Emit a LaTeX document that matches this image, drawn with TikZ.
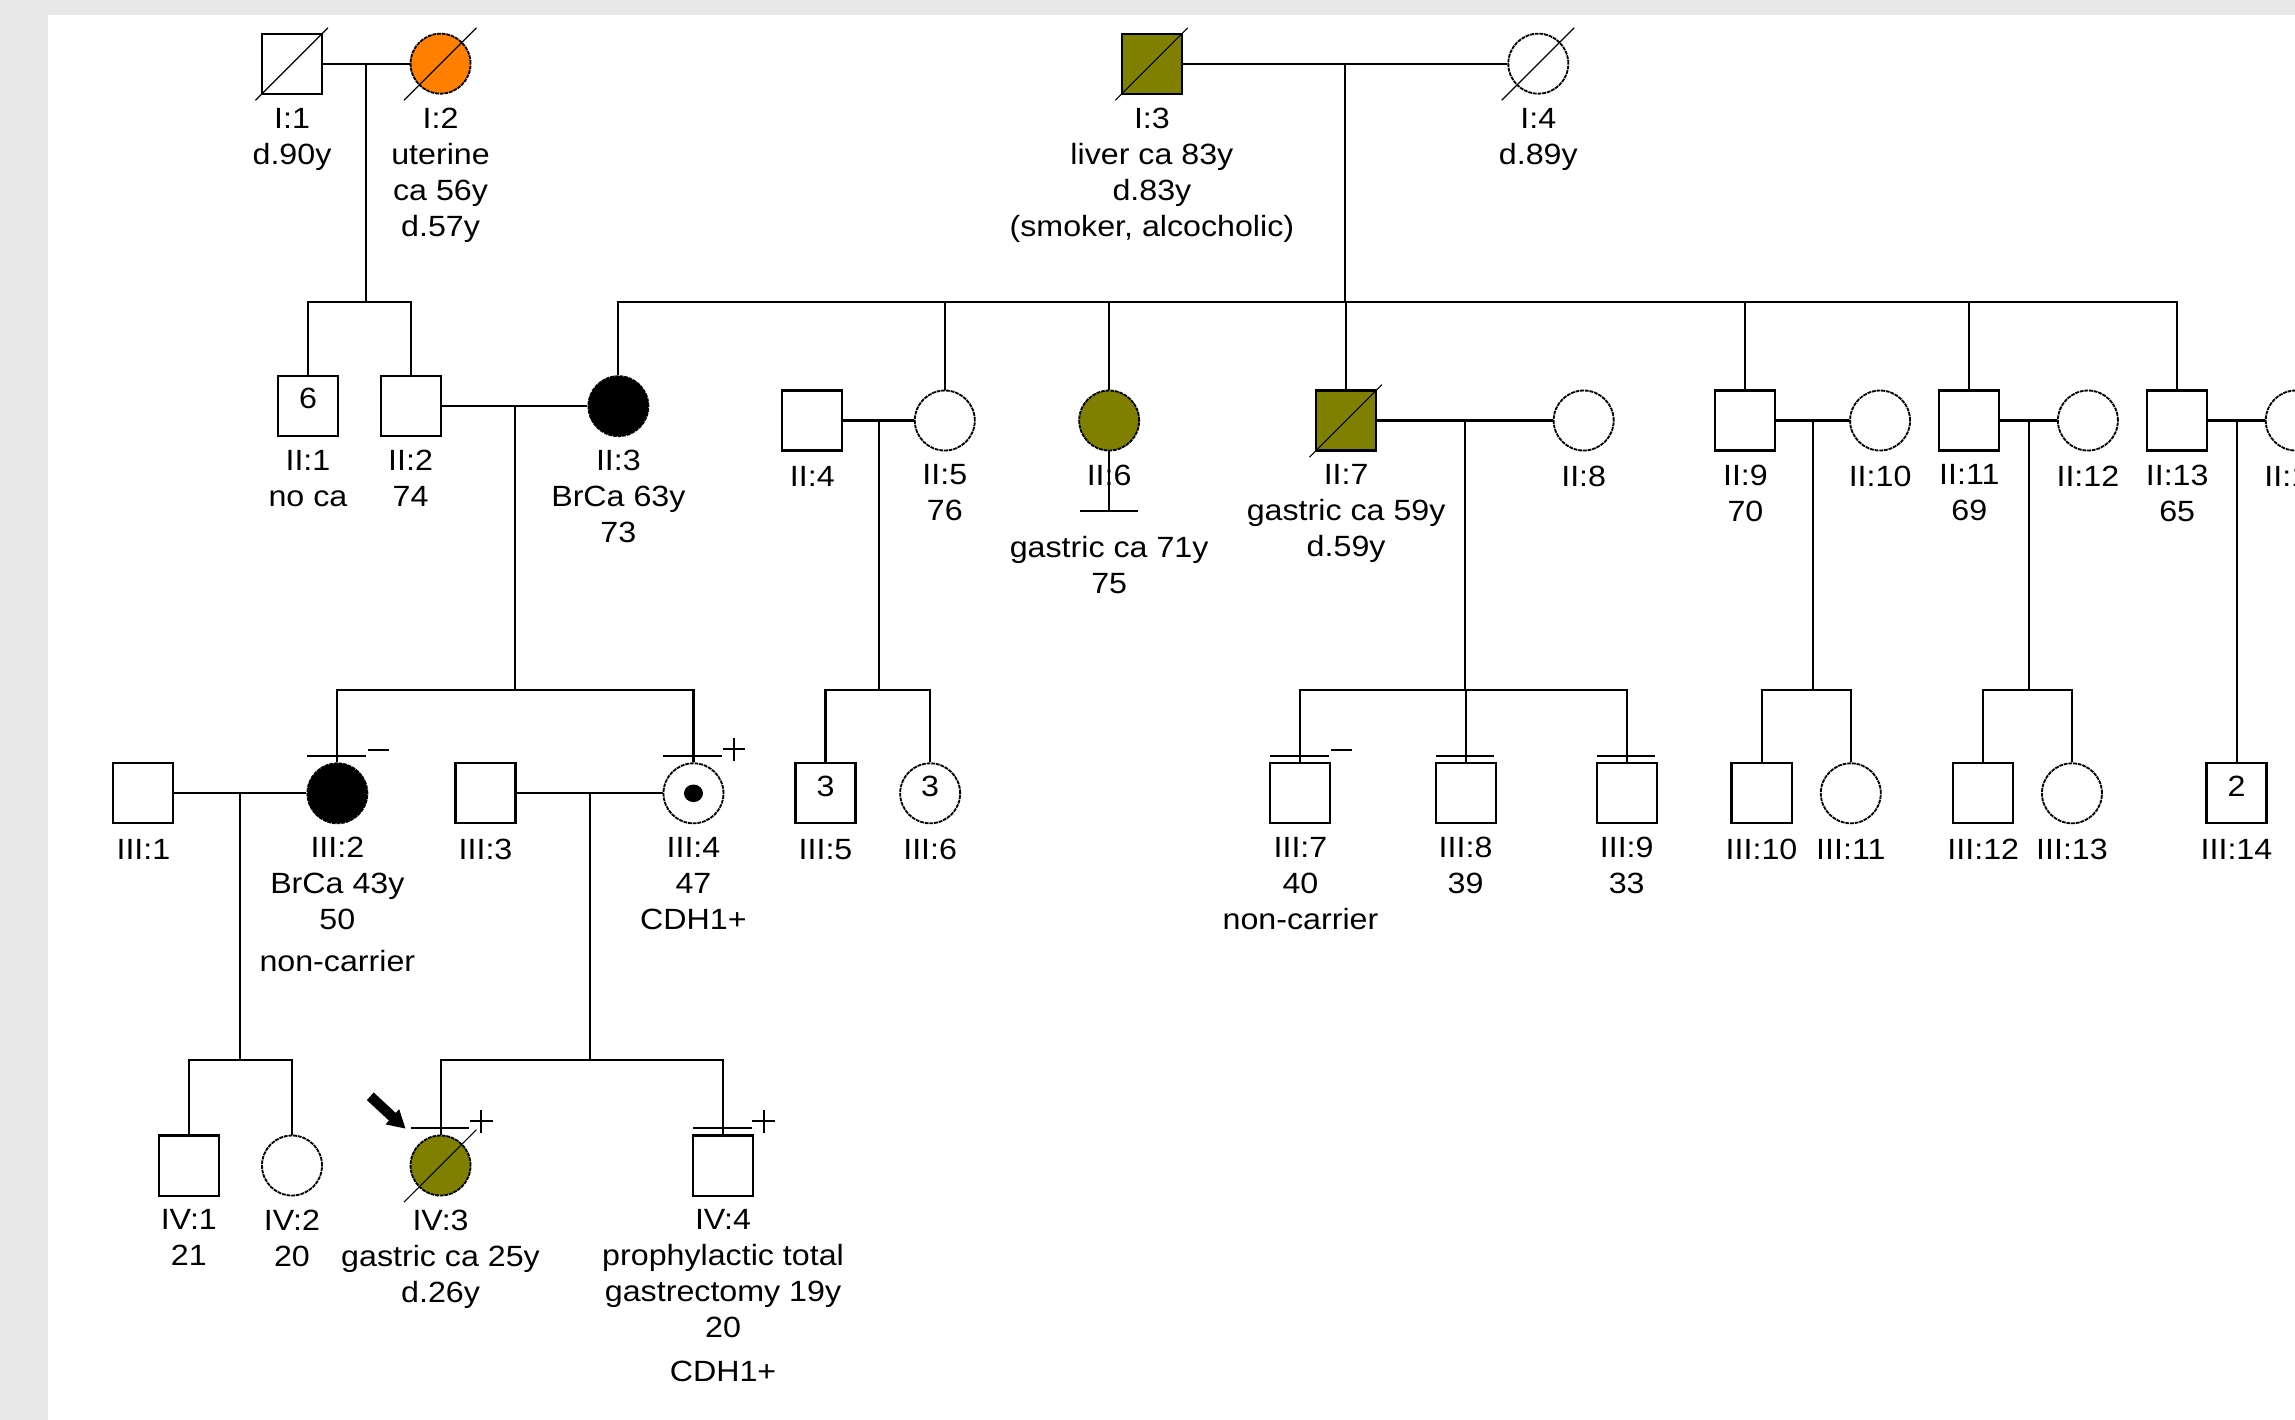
\documentclass[tikz,border=0pt]{standalone}
\usepackage{fontspec}
\setmainfont{Liberation Sans}[FakeStretch=1.1]
\usetikzlibrary{calc}
\definecolor{olivefill}{RGB}{128,128,0}
\definecolor{orangefill}{RGB}{255,128,0}
\definecolor{bggray}{RGB}{232,232,232}
\newcommand\pfont{\fontsize{20}{24.6}\selectfont}
\newcommand\deadmark[1]{\draw[slashline] ($(#1)+(-25,25)$) -- ($(#1)+(24.5,-24.5)$);}
\newcommand\testbar[1]{\draw[ln] ($(#1.north)+(-20.5,-4.5)$) -- ($(#1.north)+(19.5,-4.5)$);}
\newcommand\plusmark[1]{\draw[signline] ($(#1.north)+(20,-9)$) -- ++(15.5,0) ($(#1.north)+(27.75,-17)$) -- ++(0,16);}
\newcommand\minusmark[1]{\draw[signline] ($(#1.north)+(21,-8.5)$) -- ++(14,0);}
\begin{document}
\begin{tikzpicture}[x=1pt,y=-1pt,
  ln/.style={line width=1.4pt},
  slashline/.style={line width=0.8pt},
  signline/.style={line width=1.3pt},
  sq/.style={draw, line width=1.4pt, rectangle, minimum size=41pt, inner sep=0pt, fill=white},
  ci/.style={draw, line width=1.25pt, dash pattern=on 2.6pt off 0.6pt, circle, minimum size=41pt, inner sep=0pt, fill=white},
  lbl/.style={anchor=north, inner sep=0pt, align=center, font=\pfont, execute at begin node={\rule{0pt}{15pt}}},
  num/.style={inner sep=0pt, font=\pfont}]
\useasboundingbox (0,0) rectangle (1568,970);
\clip (0,0) rectangle (1568,970);
\fill[bggray] (0,0) rectangle (1568,970);
\fill[white] (33,10.3) rectangle (1568,970);

% sibship levels
\coordinate (sy1) at (0,206.2);
\coordinate (sy2) at (0,471.4);
\coordinate (sy3) at (0,724);

% ---------- Generation I ----------
\node[sq] (I1) at (199.5,43.5) {};
\node[ci, fill=orangefill] (I2) at (301,43.5) {};
\node[sq, fill=olivefill] (I3) at (787,43.5) {};
\node[ci] (I4) at (1051,43.5) {};

% ---------- Generation II ----------
\node[sq] (II1) at (210.4,277.5) {};
\node[sq] (II2) at (280.5,277.5) {};
\node[ci, fill=black] (II3) at (422.5,277.5) {};
\node[sq] (II4) at (555,287.3) {};
\node[ci] (II5) at (645.5,287.3) {};
\node[ci, fill=olivefill] (II6) at (757.8,287.3) {};
\node[sq, fill=olivefill] (II7) at (919.7,287.3) {};
\node[ci] (II8) at (1082,287.3) {};
\node[sq] (II9) at (1192.5,287.3) {};
\node[ci] (II10) at (1284.5,287.3) {};
\node[sq] (II11) at (1345.5,287.3) {};
\node[ci] (II12) at (1426.5,287.3) {};
\node[sq] (II13) at (1487.5,287.3) {};
\node[ci] (II14) at (1568.5,287.3) {};

% ---------- Generation III ----------
\node[sq] (III1) at (98,542) {};
\node[ci, fill=black] (III2) at (230.5,542) {};
\node[sq] (III3) at (331.7,542) {};
\node[ci] (III4) at (473.8,542) {};
\node[sq] (III5) at (564,542) {};
\node[ci] (III6) at (635.5,542) {};
\node[sq] (III7) at (888.5,542) {};
\node[sq] (III8) at (1001.3,542) {};
\node[sq] (III9) at (1111.4,542) {};
\node[sq] (III10) at (1203.5,542) {};
\node[ci] (III11) at (1264.5,542) {};
\node[sq] (III12) at (1355,542) {};
\node[ci] (III13) at (1415.6,542) {};
\node[sq] (III14) at (1528,542) {};

% ---------- Generation IV ----------
\node[sq] (IV1) at (129,796.3) {};
\node[ci] (IV2) at (199.5,796.3) {};
\node[ci, fill=olivefill] (IV3) at (301,796.3) {};
\node[sq] (IV4) at (494,796.3) {};

% carrier dot
\fill[black] (III4) ellipse [x radius=6.5pt, y radius=6pt];

% numbers inside symbols
\node[num] (k-II1) at ($(II1)+(0,-5)$) {6};
\node[num] (k-III5) at ($(III5)+(0,-5)$) {3};
\node[num] (k-III6) at ($(III6)+(0,-5)$) {3};
\node[num] (k-III14) at ($(III14)+(0,-5)$) {2};

% deceased
\deadmark{I1}
\deadmark{I2}
\deadmark{I3}
\deadmark{I4}
\deadmark{II7}
\deadmark{IV3}

% ---------- connectors ----------
% I:1 x I:2
\draw[ln] (I1.east) -- (I2.west);
\coordinate (m12) at ($(I1.east)!0.5!(I2.west)$);
\draw[ln] (m12) -- (m12 |- sy1);
\draw[ln] (II1.north) -- (II1.north |- sy1) -- (II2.north |- sy1) -- (II2.north);
% I:3 x I:4
\draw[ln] (I3.east) -- (I4.west);
\coordinate (m34) at ($(I3.east)!0.5!(I4.west)$);
\draw[ln] (m34) -- (m34 |- sy1);
\draw[ln] (II3.north) -- (II3.north |- sy1) -- (II13.north |- sy1) -- (II13.north);
\foreach \c in {II5,II6,II7,II9,II11}{\draw[ln] (\c.north) -- (\c.north |- sy1);}

% II:2 x II:3
\draw[ln] (II2.east) -- (II3.west);
\coordinate (m23) at ($(II2.east)!0.5!(II3.west)$);
\draw[ln] (m23) -- (m23 |- sy2);
\draw[ln] (III2.north) -- (III2.north |- sy2) -- (III4.north |- sy2) -- (III4.north);
% II:4 x II:5
\draw[ln] (II4.east) -- (II5.west);
\coordinate (m45) at ($(II4.east)!0.5!(II5.west)$);
\draw[ln] (m45) -- (m45 |- sy2);
\draw[ln] (III5.north) -- (III5.north |- sy2) -- (III6.north |- sy2) -- (III6.north);
% II:6 no children
\draw[ln] (II6.south) -- ++(0,40.5) coordinate (nc6);
\draw[ln] ($(nc6)+(-20,0)$) -- ($(nc6)+(20,0)$);
% II:7 x II:8
\draw[ln] (II7.east) -- (II8.west);
\coordinate (m78) at ($(II7.east)!0.5!(II8.west)$);
\draw[ln] (m78) -- (m78 |- sy2);
\draw[ln] (III7.north) -- (III7.north |- sy2) -- (III9.north |- sy2) -- (III9.north);
\draw[ln] (III8.north) -- (III8.north |- sy2);
% II:9 x II:10
\draw[ln] (II9.east) -- (II10.west);
\coordinate (m910) at ($(II9.east)!0.5!(II10.west)$);
\draw[ln] (m910) -- (m910 |- sy2);
\draw[ln] (III10.north) -- (III10.north |- sy2) -- (III11.north |- sy2) -- (III11.north);
% II:11 x II:12
\draw[ln] (II11.east) -- (II12.west);
\coordinate (m1112) at ($(II11.east)!0.5!(II12.west)$);
\draw[ln] (m1112) -- (m1112 |- sy2);
\draw[ln] (III12.north) -- (III12.north |- sy2) -- (III13.north |- sy2) -- (III13.north);
% II:13 x II:14
\draw[ln] (II13.east) -- (II14.west);
\coordinate (m1314) at ($(II13.east)!0.5!(II14.west)$);
\draw[ln] (m1314) -- (m1314 |- III14.north);

% III:1 x III:2
\draw[ln] (III1.east) -- (III2.west);
\coordinate (mIII12) at ($(III1.east)!0.5!(III2.west)$);
\draw[ln] (mIII12) -- (mIII12 |- sy3);
\draw[ln] (IV1.north) -- (IV1.north |- sy3) -- (IV2.north |- sy3) -- (IV2.north);
% III:3 x III:4
\draw[ln] (III3.east) -- (III4.west);
\coordinate (mIII34) at ($(III3.east)!0.5!(III4.west)$);
\draw[ln] (mIII34) -- (mIII34 |- sy3);
\draw[ln] (IV3.north) -- (IV3.north |- sy3) -- (IV4.north |- sy3) -- (IV4.north);

% tested bars and results
\testbar{III2} \minusmark{III2}
\testbar{III4} \plusmark{III4}
\testbar{III7} \minusmark{III7}
\testbar{III8}
\testbar{III9}
\testbar{IV3} \plusmark{IV3}
\testbar{IV4} \plusmark{IV4}

% proband arrow
\fill[black] (255.33,746.39) -- (270.39,760.39) -- (272.73,757.78) -- (277,771)
  -- (263.39,768.22) -- (265.73,765.61) -- (250.67,751.61) -- cycle;

% ---------- labels ----------
\node[lbl] (t-I1) at ($(I1)+(0,30)$) {I:1\\d.90y};
\node[lbl] (t-I2) at ($(I2)+(0,30)$) {I:2\\uterine\\ca 56y\\d.57y};
\node[lbl] (t-I3) at ($(I3)+(0,30)$) {I:3\\liver ca 83y\\d.83y\\(smoker, alcocholic)};
\node[lbl] (t-I4) at ($(I4)+(0,30)$) {I:4\\d.89y};

\node[lbl] (t-II1) at ($(II1)+(0,30)$) {II:1\\no ca};
\node[lbl] (t-II2) at ($(II2)+(0,30)$) {II:2\\74};
\node[lbl] (t-II3) at ($(II3)+(0,30)$) {II:3\\BrCa 63y\\73};
\node[lbl] (t-II4) at ($(II4)+(0,30)$) {II:4};
\node[lbl] (t-II5) at ($(II5)+(0,30)$) {II:5\\76};
\node[lbl] (t-II6) at ($(II6)+(0,30)$) {II:6\\[24.6pt]gastric ca 71y\\75};
\node[lbl] (t-II7) at ($(II7)+(0,30)$) {II:7\\gastric ca 59y\\d.59y};
\node[lbl] (t-II8) at ($(II8)+(0,30)$) {II:8};
\node[lbl] (t-II9) at ($(II9)+(0,30)$) {II:9\\70};
\node[lbl] (t-II10) at ($(II10)+(0,30)$) {II:10};
\node[lbl] (t-II11) at ($(II11)+(0,30)$) {II:11\\69};
\node[lbl] (t-II12) at ($(II12)+(0,30)$) {II:12};
\node[lbl] (t-II13) at ($(II13)+(0,30)$) {II:13\\65};
\node[lbl] (t-II14) at ($(II14)+(0,30)$) {II:14};

\node[lbl] (t-III1) at ($(III1)+(0,30)$) {III:1};
\node[lbl] (t-III2) at ($(III2)+(0,30)$) {III:2\\BrCa 43y\\50\\[3.5pt]non-carrier};
\node[lbl] (t-III3) at ($(III3)+(0,30)$) {III:3};
\node[lbl] (t-III4) at ($(III4)+(0,30)$) {III:4\\47\\CDH1+};
\node[lbl] (t-III5) at ($(III5)+(0,30)$) {III:5};
\node[lbl] (t-III6) at ($(III6)+(0,30)$) {III:6};
\node[lbl] (t-III7) at ($(III7)+(0,30)$) {III:7\\40\\non-carrier};
\node[lbl] (t-III8) at ($(III8)+(0,30)$) {III:8\\39};
\node[lbl] (t-III9) at ($(III9)+(0,30)$) {III:9\\33};
\node[lbl] (t-III10) at ($(III10)+(0,30)$) {III:10};
\node[lbl] (t-III11) at ($(III11)+(0,30)$) {III:11};
\node[lbl] (t-III12) at ($(III12)+(0,30)$) {III:12};
\node[lbl] (t-III13) at ($(III13)+(0,30)$) {III:13};
\node[lbl] (t-III14) at ($(III14)+(0,30)$) {III:14};

\node[lbl] (t-IV1) at ($(IV1)+(0,30)$) {IV:1\\21};
\node[lbl] (t-IV2) at ($(IV2)+(0,30)$) {IV:2\\20};
\node[lbl] (t-IV3) at ($(IV3)+(0,30)$) {IV:3\\gastric ca 25y\\d.26y};
\node[lbl] (t-IV4) at ($(IV4)+(0,30)$) {IV:4\\prophylactic total\\gastrectomy 19y\\20\\[5pt]CDH1+};
\end{tikzpicture}
\end{document}
